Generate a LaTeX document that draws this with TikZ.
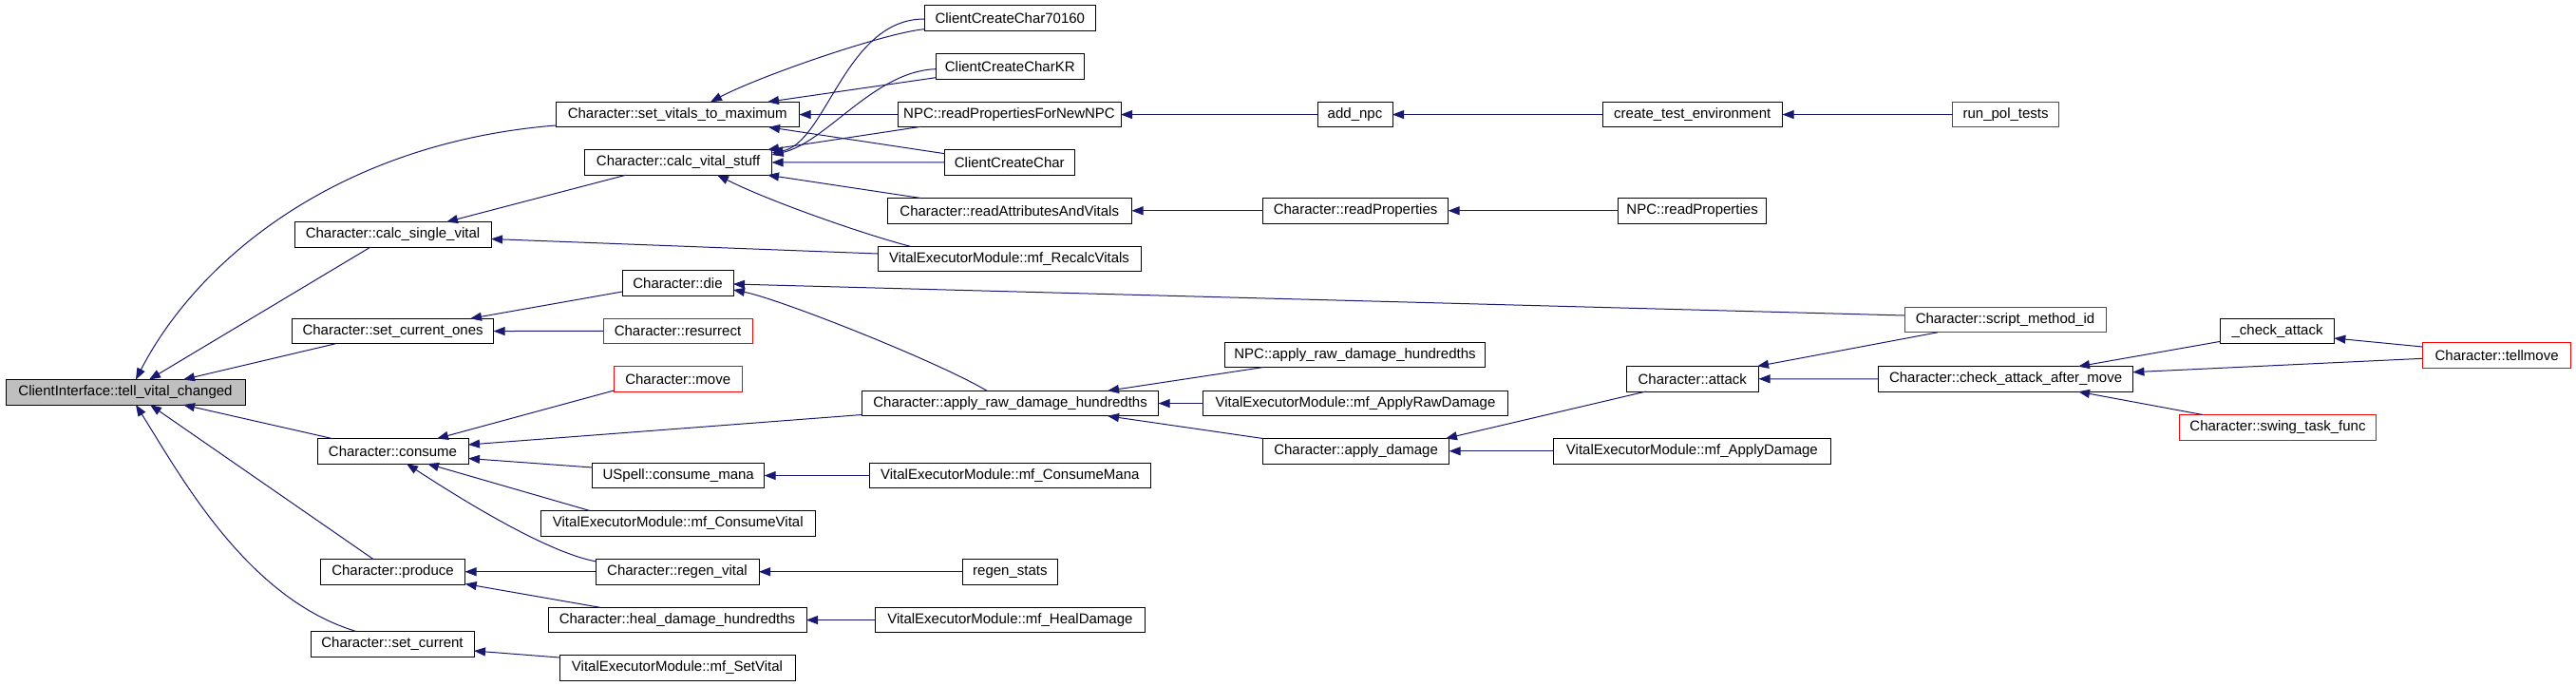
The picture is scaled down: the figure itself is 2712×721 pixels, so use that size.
\documentclass[tikz,border=0pt]{standalone}
\usepackage{fontspec}
\setmainfont{Liberation Sans}
\usetikzlibrary{arrows.meta,calc}
\definecolor{edgeblue}{HTML}{191970}
\definecolor{nodegray}{HTML}{BFBFBF}
\begin{document}
\begin{tikzpicture}[x=1pt,y=-1pt,
 box/.style={draw=black, line width=1pt, anchor=north west, minimum height=26.5pt, inner sep=0pt, outer sep=0pt, font=\fontsize{15}{18}\selectfont},
 redbox/.style={box, draw=red},
 edgeline/.style={draw=edgeblue, line width=1pt, -{Triangle[length=12pt,width=9pt]}},
]
\useasboundingbox (0,0) rectangle (2712,721);
\fill[white] (0,0) rectangle (2712,721);
% column 0
\node[box, minimum width=252pt, fill=nodegray] (CI) at (6,399.5) {ClientInterface::tell\_vital\_changed};
% column 1
\node[box, minimum width=256.5pt] (svm) at (585,107.3) {Character::set\_vitals\_to\_maximum};
\node[box, minimum width=207pt] (csv) at (310,233.6) {Character::calc\_single\_vital};
\node[box, minimum width=212pt] (sco) at (307.6,335.3) {Character::set\_current\_ones};
\node[box, minimum width=159pt] (con) at (334,461.6) {Character::consume};
\node[box, minimum width=152pt] (pro) at (337.5,588.5) {Character::produce};
\node[box, minimum width=172pt] (scu) at (327,664.5) {Character::set\_current};
% column 2
\node[box, minimum width=197pt] (cvs) at (615.6,157.7) {Character::calc\_vital\_stuff};
\node[box, minimum width=117pt] (die) at (655,284.5) {Character::die};
\node[redbox, minimum width=157pt] (res) at (635,335) {Character::resurrect};
\node[redbox, minimum width=134.6pt] (mov) at (646.4,385.5) {Character::move};
\node[box, minimum width=181pt] (ucm) at (623.7,487.3) {USpell::consume\_mana};
\node[box, minimum width=288.4pt] (vcv) at (569.6,537.5) {VitalExecutorModule::mf\_ConsumeVital};
\node[box, minimum width=172pt] (rv) at (627,588.5) {Character::regen\_vital};
\node[box, minimum width=272pt] (hdh) at (577,639.3) {Character::heal\_damage\_hundredths};
\node[box, minimum width=248pt] (vsv) at (589,689.5) {VitalExecutorModule::mf\_SetVital};
% column 3
\node[box, minimum width=180.6pt] (c70) at (973,5.5) {ClientCreateChar70160};
\node[box, minimum width=156.5pt] (ckr) at (985,56.5) {ClientCreateCharKR};
\node[box, minimum width=235pt] (nrp) at (945,107.3) {NPC::readPropertiesForNewNPC};
\node[box, minimum width=136.4pt] (ccc) at (994.6,157.5) {ClientCreateChar};
\node[box, minimum width=257.5pt] (rav) at (934,208.5) {Character::readAttributesAndVitals};
\node[box, minimum width=277pt] (rcv) at (924,259.3) {VitalExecutorModule::mf\_RecalcVitals};
\node[box, minimum width=312pt] (ard) at (907.6,411.3) {Character::apply\_raw\_damage\_hundredths};
\node[box, minimum width=295.4pt] (vcm) at (915.6,487.3) {VitalExecutorModule::mf\_ConsumeMana};
\node[box, minimum width=100pt] (rst) at (1013.4,588.5) {regen\_stats};
\node[box, minimum width=284pt] (vhd) at (921.4,639.3) {VitalExecutorModule::mf\_HealDamage};
% column 4
\node[box, minimum width=79pt] (anpc) at (1387,107.3) {add\_npc};
\node[box, minimum width=195pt] (rp) at (1329.6,208.5) {Character::readProperties};
\node[box, minimum width=273.5pt] (nard) at (1289.8,360) {NPC::apply\_raw\_damage\_hundredths};
\node[box, minimum width=320.4pt] (vard) at (1266.8,411.3) {VitalExecutorModule::mf\_ApplyRawDamage};
\node[box, minimum width=196pt] (ad) at (1329.6,461.5) {Character::apply\_damage};
% column 5
\node[box, minimum width=189.5pt] (cte) at (1687,107.3) {create\_test\_environment};
\node[box, minimum width=156pt] (nrpp) at (1703.6,208.5) {NPC::readProperties};
\node[box, minimum width=139.5pt] (att) at (1712,385.5) {Character::attack};
\node[box, minimum width=292.4pt] (vad) at (1635.2,461.5) {VitalExecutorModule::mf\_ApplyDamage};
% column 6
\node[redbox, minimum width=112.2pt] (rpt) at (2055.5,107.3) {run\_pol\_tests};
\node[redbox, minimum width=212pt] (smi) at (2005,323.3) {Character::script\_method\_id};
\node[box, minimum width=267.7pt] (caam) at (1977.7,385.7) {Character::check\_attack\_after\_move};
% column 7, 8
\node[box, minimum width=119.5pt] (ca) at (2337.8,335.3) {\_check\_attack};
\node[redbox, minimum width=207pt] (sw) at (2294.5,436.5) {Character::swing\_task\_func};
\node[redbox, minimum width=156pt] (tm) at (2550.6,360.5) {Character::tellmove};
% edges into CI
\draw[edgeline] ($(svm.north west)+(0,24.7)$) .. controls +(-225,18) and +(67,-129.5) .. ($(CI.north west)+(137,0)$);
\draw[edgeline] ($(csv.north west)+(80,26.5)$) -- ($(CI.north west)+(151,0)$);
\draw[edgeline] ($(sco.north west)+(45.4,26.5)$) -- ($(CI.north west)+(187,0)$);
\draw[edgeline] ($(con.north west)+(16,0)$) -- ($(CI.north west)+(187,26.5)$);
\draw[edgeline] ($(pro.north west)+(55.5,0)$) -- ($(CI.north west)+(152,26.5)$);
\draw[edgeline] ($(scu.north west)+(48,0)$) .. controls +(-115,-34.5) and +(47,74.5) .. ($(CI.north west)+(137,26.5)$);
% column 1 targets
\draw[edgeline] ($(cvs.north west)+(43.4,26.5)$) -- ($(csv.north west)+(160,0)$);
\draw[edgeline] ($(rcv.north west)+(0,7.7)$) -- ($(csv.north west)+(207,17.9)$);
\draw[edgeline] ($(die.north west)+(0,22.5)$) -- ($(sco.north west)+(187.4,0)$);
\draw[edgeline] (res.west) -- (sco.east);
\draw[edgeline] ($(mov.north west)+(0,25.5)$) -- ($(con.north west)+(126,0)$);
\draw[edgeline] ($(ard.north west)+(0,25.2)$) -- ($(con.north west)+(159,6.4)$);
\draw[edgeline] ($(ucm.north west)+(0,4.7)$) -- ($(con.north west)+(159,20.9)$);
\draw[edgeline] ($(vcv.north west)+(51.4,0)$) -- ($(con.north west)+(116,26.5)$);
\draw[edgeline] ($(rv.north west)+(0,2.3)$) .. controls +(-57,-10.8) and +(42,27) .. ($(con.north west)+(94,26.5)$);
\draw[edgeline] (rv.west) -- (pro.east);
\draw[edgeline] ($(hdh.north west)+(54.7,0)$) -- ($(pro.north west)+(152.2,26)$);
\draw[edgeline] ($(vsv.north west)+(0,2.5)$) -- ($(scu.north west)+(172,20.5)$);
% column 2 targets
\draw[edgeline] ($(c70.north west)+(0,25.2)$) .. controls +(-43,4.3) and +(52,-27.3) .. ($(svm.north west)+(163,0)$);
\draw[edgeline] ($(ckr.north west)+(0,25.2)$) -- ($(svm.north west)+(223,0)$);
\draw[edgeline] (nrp.west) -- (svm.east);
\draw[edgeline] ($(ccc.north west)+(0,4.2)$) -- ($(svm.north west)+(224,26.5)$);
\draw[edgeline] ($(c70.north west)+(0,14.5)$) .. controls +(-83,0) and +(57.4,-11) .. ($(cvs.north west)+(197,3.3)$);
\draw[edgeline] ($(ckr.north west)+(0,16.2)$) .. controls +(-65,2.3) and +(57.4,-13) .. ($(cvs.north west)+(197,5.3)$);
\draw[edgeline] ($(nrp.north west)+(24.6,26)$) -- ($(cvs.north west)+(192.4,0)$);
\draw[edgeline] (ccc.west) -- (cvs.east);
\draw[edgeline] ($(rav.north west)+(35.6,0)$) -- ($(cvs.north west)+(192.4,26.5)$);
\draw[edgeline] ($(rcv.north west)+(34.5,0)$) .. controls +(-40,-10) and +(60,30) .. ($(cvs.north west)+(139.4,26.5)$);
\draw[edgeline] ($(smi.north west)+(0,8.7)$) -- ($(die.north west)+(117,14.5)$);
\draw[edgeline] ($(ard.north west)+(131.4,0)$) .. controls +(-50,-30) and +(50,10) .. ($(die.north west)+(117,20.5)$);
\draw[edgeline] (vcm.west) -- (ucm.east);
\draw[edgeline] (rst.west) -- (rv.east);
\draw[edgeline] (vhd.west) -- (hdh.east);
% further right
\draw[edgeline] (anpc.west) -- (nrp.east);
\draw[edgeline] (cte.west) -- (anpc.east);
\draw[edgeline] (rpt.west) -- (cte.east);
\draw[edgeline] (rp.west) -- (rav.east);
\draw[edgeline] (nrpp.west) -- (rp.east);
\draw[edgeline] ($(nard.north west)+(40.2,26.5)$) -- ($(ard.north west)+(258.4,0)$);
\draw[edgeline] (vard.west) -- (ard.east);
\draw[edgeline] (ad.north west) -- ($(ard.north west)+(258.4,26.5)$);
\draw[edgeline] ($(att.north west)+(21,26.5)$) -- ($(ad.north west)+(192.4,0)$);
\draw[edgeline] (vad.west) -- (ad.east);
\draw[edgeline] ($(smi.north west)+(35,26.5)$) -- ($(att.north west)+(138,0)$);
\draw[edgeline] (caam.west) -- (att.east);
\draw[edgeline] ($(ca.north west)+(0,24)$) -- ($(caam.north west)+(210.3,0)$);
\draw[edgeline] ($(tm.north west)+(0,16.8)$) -- ($(caam.north west)+(267.7,6)$);
\draw[edgeline] ($(sw.north west)+(24.5,0)$) -- ($(caam.north west)+(210.3,26.5)$);
\draw[edgeline] ($(tm.north west)+(0,4.5)$) -- ($(ca.north west)+(119.5,20.7)$);
\end{tikzpicture}
\end{document}
